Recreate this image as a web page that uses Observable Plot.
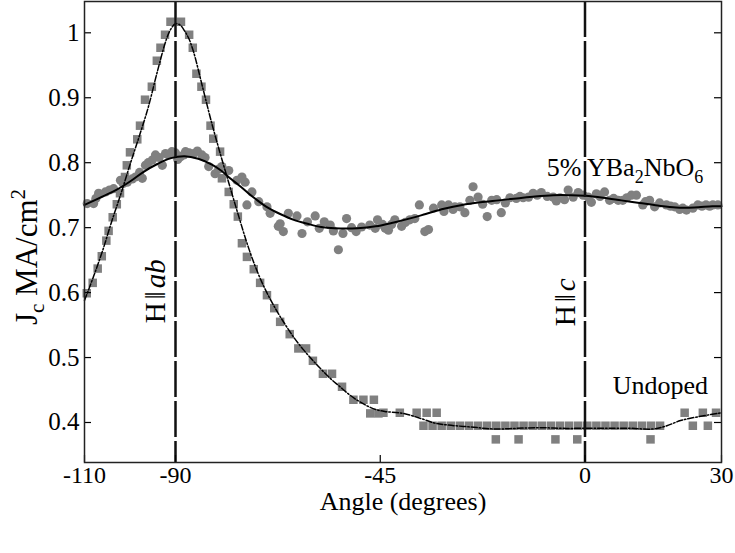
<!DOCTYPE html>
<html><head><meta charset="utf-8">
<script src="https://cdn.jsdelivr.net/npm/d3@7"></script>
<script src="https://cdn.jsdelivr.net/npm/@observablehq/plot@0.6"></script>
<style>body{margin:0;background:#fff;} #chart svg{display:block;}</style>
</head><body><div id="chart"></div>
<script>
// ---- Undoped (squares)
const undopedAngle = [-109.5,-108.2,-107.1,-106.2,-105.2,-104.7,-103.8,-102.9,-102.2,-101.1,-100.7,-100.0,-98.4,-97.8,-96.7,-95.2,-94.1,-93.3,-92.3,-91.1,-88.8,-87.0,-86.2,-85.4,-84.3,-83.3,-82.3,-81.7,-80.2,-79.8,-78.3,-77.2,-76.3,-75.4,-74.3,-72.8,-71.4,-69.9,-68.3,-67.0,-64.9,-63.0,-61.3,-59.8,-57.6,-55.6,-53.4,-50.9,-48.7,-46.4,-47.2,-45.4,-44.3,-40.7,-37.0,-34.8,-32.6,
 -35.5,-33.5,-31.5,-29.5,-27.5,-25.5,-23.5,-21.5,-19.5,-17.5,-15.5,-13.5,-11.5,-9.5,-7.5,-5.5,-3.5,-1.5,0.5,2.5,4.5,6.5,8.5,10.5,12.5,14.5,16.5,
 -19.6,-14.6,-6.5,-1.7,14.4, 21.9,23.7,25.9,27.0,28.8];
const undopedJc = [0.599,0.615,0.637,0.656,0.680,0.695,0.716,0.736,0.753,0.778,0.796,0.816,0.836,0.857,0.897,0.917,0.957,0.977,0.997,1.017,1.017,0.997,0.977,0.937,0.917,0.897,0.857,0.837,0.817,0.776,0.755,0.736,0.717,0.676,0.655,0.636,0.615,0.596,0.576,0.555,0.536,0.514,0.514,0.495,0.475,0.475,0.455,0.435,0.435,0.435,0.414,0.414,0.415,0.415,0.415,0.415,0.415,
 0.395,0.395,0.395,0.395,0.395,0.395,0.395,0.395,0.395,0.395,0.395,0.395,0.395,0.395,0.395,0.395,0.395,0.395,0.395,0.395,0.395,0.395,0.395,0.395,0.395,0.395,0.395,
 0.374,0.374,0.374,0.374,0.374, 0.415,0.395,0.415,0.395,0.415];

// ---- 5% YBa2NbO6 (circles)
const dopedAngle = [-109.4,-108.0,-107.5,-106.9,-105.4,-104.5,-103.6,-102.1,-101.5,-100.6,-99.5,-98.8,-97.9,-97.3,-96.6,-96.0,-95.1,-94.4,-93.6,-92.9,-92.2,-91.5,-90.8,-90.0,-89.5,-88.9,-88.2,-87.8,-87.0,-86.0,-85.2,-84.2,-83.5,-82.7,-81.3,-80.5,-79.8,-78.3,-76.5,-75.4,-74.7,-74.3,-73.2,-71.7,-69.9,-69.2,-67.4,-67.0,-66.3,-65.2,-63.3,-62.2,-61.0,-59.3,-58.4,-57.3,-56.0,-55.3,-54.2,-53.2,-52.4,-51.3,-50.3,-49.1,-47.3,-46.1,-45.6,-44.5,-43.9,-43.2,-42.5,-41.8,-40.3,-39.5,-38.5,-37.4,-36.4,-35.2,-34.4,-33.3,-31.5,-31.0,-30.0,-29.0,-28.6,-27.5,-26.4,-25.3,-24.6,-23.5,-22.5,-21.5,-20.5,-19.4,-18.4,-17.5,-16.5,-15.1,-14.3,-13.6,-12.4,-11.4,-10.5,-9.6,-8.3,-7.0,-6.3,-5.5,-4.5,-3.7,-2.6,-1.5,-0.4,0.7,1.4,2.5,3.3,4.3,5.4,6.3,7.3,8.3,9.2,10.2,11.3,12.7,13.3,14.2,15.3,16.4,17.9,18.8,19.7,20.8,21.5,22.3,23.7,24.8,25.7,26.6,27.4,28.1,29.2];
const dopedJc = [0.737,0.737,0.745,0.753,0.755,0.758,0.760,0.773,0.768,0.770,0.775,0.778,0.785,0.776,0.796,0.800,0.804,0.812,0.808,0.796,0.814,0.812,0.817,0.815,0.805,0.809,0.812,0.817,0.815,0.814,0.818,0.812,0.808,0.794,0.783,0.790,0.794,0.788,0.773,0.778,0.770,0.735,0.755,0.740,0.732,0.722,0.702,0.706,0.694,0.722,0.718,0.691,0.709,0.718,0.699,0.709,0.704,0.695,0.666,0.691,0.714,0.700,0.694,0.701,0.704,0.699,0.712,0.705,0.699,0.696,0.705,0.712,0.702,0.708,0.712,0.714,0.735,0.694,0.697,0.730,0.735,0.725,0.735,0.728,0.732,0.732,0.723,0.742,0.763,0.747,0.736,0.717,0.742,0.743,0.723,0.738,0.746,0.745,0.748,0.746,0.747,0.753,0.750,0.754,0.748,0.747,0.741,0.746,0.743,0.758,0.747,0.754,0.750,0.747,0.739,0.752,0.748,0.755,0.742,0.745,0.742,0.742,0.746,0.750,0.750,0.735,0.740,0.742,0.732,0.738,0.735,0.733,0.732,0.728,0.730,0.727,0.730,0.735,0.733,0.735,0.733,0.735,0.735];

// ---- fitted curves
const undopedFitAngle = [-110,-108,-106,-104,-102,-100,-98,-96,-94,-92,-91,-90,-89,-88,-87,-86,-84,-82,-80,-78,-76,-74,-72,-70,-68,-66,-64,-62,-60,-58,-56,-54,-52,-50,-48,-46,-44,-40,-36,-33,-30,-25,-20,-15,-10,-5,0,5,10,15,18,21,25,30];
const undopedFitJc = [0.588,0.625,0.665,0.710,0.752,0.797,0.840,0.885,0.940,0.990,1.006,1.014,1.012,1.003,0.990,0.970,0.915,0.860,0.810,0.762,0.715,0.670,0.632,0.601,0.575,0.552,0.531,0.513,0.497,0.482,0.468,0.456,0.444,0.434,0.426,0.420,0.417,0.414,0.406,0.399,0.396,0.393,0.390,0.391,0.392,0.391,0.391,0.391,0.391,0.390,0.395,0.403,0.409,0.415];
const dopedFitAngle = [-110,-106,-103,-100,-97,-94,-91,-88,-85,-82,-80,-78,-76,-74,-72,-70,-67,-64,-61,-58,-55,-50,-46,-42,-38,-35,-31,-27,-23,-19,-15,-11,-7,-3,0,4,8,12,16,20,24,28,30];
const dopedFitJc = [0.735,0.748,0.758,0.771,0.786,0.798,0.807,0.810,0.806,0.797,0.788,0.776,0.765,0.753,0.742,0.732,0.721,0.712,0.706,0.701,0.699,0.699,0.702,0.708,0.715,0.721,0.729,0.735,0.739,0.742,0.745,0.748,0.750,0.750,0.749,0.746,0.742,0.738,0.734,0.731,0.731,0.733,0.733];

// ---- axes / labels
const xTicks = [-110,-90,-45,0,30];
const yTicks = [0.4,0.5,0.6,0.7,0.8,0.9,1];
const refAngles = [-90, 0];
const xLabel = "Angle (degrees)";
const yLabel = "Jc MA/cm2";
const annoText = ["5% YBa2NbO6", "Undoped"];
const annoX = [-8.4, 6.1];
const annoY = [0.779, 0.444];
const refText = ["H\u2016ab", "H\u2016c"];
const refX = [-92.4, -2.3];
const refY = [0.602, 0.585];

const W = 735, H = 553, mL = 84, mR = 14, mT = 1, mB = 91;
const innerW = W - mL - mR, innerH = H - mT - mB;
const font = "Liberation Serif, Times New Roman, serif";
const gray = "#808080";

const undoped = undopedAngle.map((a,i)=>({a, v: undopedJc[i]}));
const doped = dopedAngle.map((a,i)=>({a, v: dopedJc[i]}));
const undopedFit = undopedFitAngle.map((a,i)=>({a, v: undopedFitJc[i]}));
const dopedFit = dopedFitAngle.map((a,i)=>({a, v: dopedFitJc[i]}));
const annos = annoText.map((t,i)=>({t, a: annoX[i], v: annoY[i]}));
const refs = refText.map((t,i)=>({t, a: refX[i], v: refY[i]}));

const chart = Plot.plot({
  width: W, height: H,
  marginLeft: mL, marginRight: mR, marginTop: mT, marginBottom: mB,
  style: {fontFamily: font, fontSize: "24px", background: "white", color: "black"},
  x: {domain: [-110, 30]},
  y: {domain: [0.3384, 1.0482]},
  marks: [
    Plot.dot(undoped, {x: "a", y: "v", symbol: "square", r: 4.8, fill: gray, stroke: "none"}),
    Plot.dot(doped, {x: "a", y: "v", symbol: "circle", r: 4.6, fill: gray, stroke: "none"}),
    Plot.line(dopedFit, {x: "a", y: "v", curve: "catmull-rom", stroke: "black", strokeWidth: 2}),
    Plot.line(undopedFit, {x: "a", y: "v", curve: "catmull-rom", stroke: "black", strokeWidth: 1.5, strokeDasharray: "6,2,1.5,2"}),
    Plot.ruleX(refAngles, {stroke: "#111", strokeWidth: 2.5, strokeDasharray: "36,4"}),
    Plot.tickY(yTicks, {y: d => d, insetRight: innerW - 7, stroke: "black", strokeWidth: 1.2}),
    Plot.tickY(yTicks, {y: d => d, insetLeft: innerW - 7, stroke: "black", strokeWidth: 1.2}),
    Plot.tickX(xTicks, {x: d => d, insetTop: innerH - 7, stroke: "black", strokeWidth: 1.2}),
    Plot.frame({stroke: "#222", strokeWidth: 1.5}),
    Plot.axisX(xTicks, {tickSize: 0, tickPadding: 3, tickFormat: d => String(d), label: null, fontSize: 24}),
    Plot.axisY(yTicks, {tickSize: 0, tickPadding: 5, tickFormat: d => String(d), label: null, fontSize: 25}),
    Plot.text([xLabel], {frameAnchor: "bottom", textAnchor: "middle", dy: 47, lineAnchor: "bottom", text: d => d, fontSize: 26}),
    Plot.text([yLabel], {frameAnchor: "left", textAnchor: "middle", rotate: -90, dx: -48, dy: 25, lineAnchor: "bottom", text: d => d, fontSize: 31}),
    Plot.text(annos, {x: "a", y: "v", text: "t", textAnchor: "start", lineAnchor: "bottom", fontSize: 26}),
    Plot.text(refs, {x: "a", y: "v", text: "t", rotate: -90, textAnchor: "middle", lineAnchor: "bottom", fontSize: 29})
  ]
});

// rich text (sub/superscripts, italics)
const NS = "http://www.w3.org/2000/svg";
function rich(el, parts) {
  while (el.firstChild) el.removeChild(el.firstChild);
  for (const p of parts) {
    const ts = document.createElementNS(NS, "tspan");
    ts.textContent = p.t;
    if (p.size) ts.setAttribute("font-size", p.size);
    if (p.dy) ts.setAttribute("dy", p.dy);
    if (p.dx) ts.setAttribute("dx", p.dx);
    if (p.italic) ts.setAttribute("font-style", "italic");
    el.appendChild(ts);
  }
}
chart.querySelectorAll("text").forEach(el => {
  const s = el.textContent;
  if (s === yLabel) rich(el, [{t:"J"},{t:"c",size:"21",dy:"7"},{t:" MA/cm",dy:"-7"},{t:"2",size:"21",dy:"-12"}]);
  else if (s === annoText[0]) rich(el, [{t:"5% YBa"},{t:"2",size:"18",dy:"7"},{t:"NbO",dy:"-7"},{t:"6",size:"18",dy:"7"}]);
  else if (s === refText[0]) rich(el, [{t:"H"},{t:"\u2016",dx:"3"},{t:"ab",italic:true,dx:"3"}]);
  else if (s === refText[1]) rich(el, [{t:"H"},{t:"\u2016",dx:"3"},{t:"c",italic:true,dx:"3"}]);
});
document.getElementById("chart").appendChild(chart);
</script>
</body></html>
